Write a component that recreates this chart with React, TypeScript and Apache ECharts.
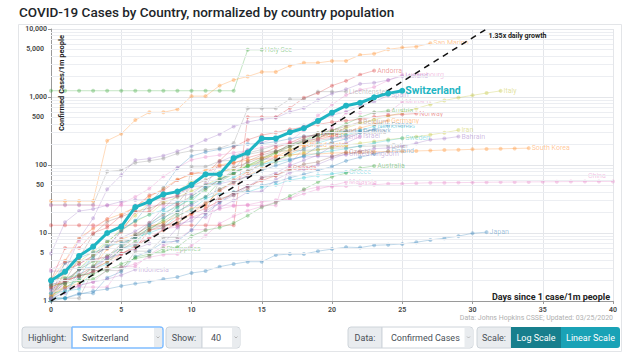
import React, { useEffect, useRef } from 'react';
import * as echarts from 'echarts';

// ---------- tick values ----------
const minorGrid = [2, 3, 4, 5, 6, 7, 8, 9, 20, 30, 40, 50, 60, 70, 80, 90, 200, 300, 400, 500, 600, 700, 800, 900, 2000, 3000, 4000, 5000, 6000, 7000, 8000, 9000];
const labeledMinor = [5, 50, 500, 5000];

// ---------- reference line (two endpoints) ----------
const growthLine = [[0, 1], [31, 10000]];

// ---------- series values (confirmed cases per 1m people, one per day since 1 case/1m) ----------
const switzerland = [2.0, 2.7, 4.6, 6.3, 10, 12.4, 24, 29, 37, 40.6, 51, 73, 73, 126, 152, 246, 246, 303, 347, 445, 588, 745, 823, 990, 1130, 1235];
const holySee = [1236, 1236, 1236, 1236, 1236, 1236, 1236, 1236, 1236, 1236, 1236, 1236, 1236, 1236, 4944, 4944];
const sanMarino = [29.5, 29.5, 29.5, 29.5, 228, 287, 458, 595, 595, 660, 1030, 1030, 1470, 1780, 2000, 2340, 2340, 2880, 3180, 3180, 3390, 3390, 4160, 4320, 5030, 5330, 5500, 6160];
const andorra = [13, 13, 13, 13, 13, 13, 13, 13, 13, 13, 13, 13, 13, 13, 506, 506, 506, 688, 974, 1143, 1468, 1727, 2130, 2442];
const liechtenstein = [26, 26, 26, 26, 80, 84, 108, 115, 125, 148, 162, 166, 176, 210, 680, 680, 680, 930, 930, 1200, 1200, 1200];
const iceland = [2.75, 2.75, 8.2, 16.5, 44, 71, 118, 124, 137, 159, 190, 234, 283, 368, 429, 470, 495, 604, 687, 907, 1124, 1300, 1560, 1615, 1780, 2025];
const luxembourg = [1.6, 1.6, 1.6, 1.6, 1.6, 3.2, 3.2, 4.8, 6.4, 8, 11.2, 11.2, 41.5, 54, 81, 123, 129, 224, 324, 535, 773, 1070, 1275, 1398, 1756, 2130];
const monaco = [25.5, 25.5, 25.5, 25.5, 25.5, 25.5, 25.5, 25.5, 25.5, 25.5, 25.5, 25.5, 25.5, 25.5, 25.5, 25.5, 25.5, 102, 179, 230, 357, 587, 587, 587, 587, 846];
const spain = [1.8, 2.6, 3.5, 4.7, 6, 8.5, 10.6, 14.2, 23, 36, 48, 48, 111, 136, 166, 212, 250, 296, 382, 434, 540, 608, 747, 848, 1053];
const italy = [1.03, 2.6, 3.8, 5.3, 7.5, 10.8, 14.7, 18.7, 28, 33.7, 41.4, 51, 64, 77, 97, 122, 152, 168, 206, 250, 292, 350, 410, 463, 522, 591, 679, 778, 887, 979, 1058, 1145, 1231];
const austria = [1.1, 1.6, 2, 3.3, 4.6, 6.2, 8.9, 11.7, 14.7, 20, 28, 34, 57, 74, 97, 114, 150, 185, 226, 268, 316, 402, 503, 594, 628];
const norway = [1.1, 2.8, 3.5, 4.6, 6.3, 10.4, 20.5, 20.5, 31, 36, 51, 74, 115, 183, 234, 275, 300, 334, 360, 395, 428, 448, 470, 510, 540, 555, 570];
const germany = [1.6, 1.9, 2.4, 3.2, 5.8, 8.1, 9.6, 12.5, 14.2, 17.6, 23, 25, 44, 55, 70, 88, 112, 149, 185, 239, 268, 300, 350, 397, 450];
const belgium = [1.1, 2.0, 4.3, 9.5, 14.7, 17.4, 20.8, 23.2, 27.3, 27.3, 48.6, 60, 77, 92, 108, 129, 156, 196, 245, 296, 325, 371, 429];
const netherlands = [1.04, 1.4, 2.2, 4.7, 7.4, 10.9, 15.3, 18.6, 22, 29, 29, 46, 55, 66, 82, 99, 119, 142, 173, 210, 243, 275, 321, 371];
const portugal = [1.3, 2, 2.9, 3.8, 4, 5.7, 7.6, 11, 16, 24, 32, 43, 62, 76, 99, 124, 155, 200, 229, 291];
const estonia = [1.5, 1.5, 2.3, 3, 7.5, 7.5, 8.3, 12, 13, 20, 20, 20, 59, 85, 150, 169, 195, 200, 212, 230, 245, 265, 303];
const denmark = [1.7, 3.6, 4.3, 5.2, 6, 11, 15, 27, 46, 90, 135, 155, 170, 190, 203, 206, 220, 243, 264, 277, 295, 315, 321];
const france = [1.5, 1.9, 2.9, 3.2, 4.3, 6.3, 9.5, 13, 17, 21, 26, 34, 44, 56, 68, 83, 98, 115, 138, 188, 215, 242, 297, 334, 382];
const israel = [1.7, 2.1, 2.3, 2.7, 4.4, 4.9, 6.4, 8.5, 11, 13.5, 15, 21, 28, 36, 48, 65, 77, 98, 117, 140, 190, 210, 263];
const ireland = [1.2, 3.7, 3.9, 4.1, 4.5, 6.9, 8.8, 14, 18.6, 26, 35, 46, 60, 75, 114, 140, 160, 185, 222, 245, 319];
const unitedStates = [1.2, 1.6, 1.8, 2.9, 3.8, 4.9, 6.5, 8.5, 11, 14, 19, 27, 41, 60, 80, 103, 133, 165, 200];
const qatar = [1.1, 1.1, 1.1, 2.8, 2.8, 2.8, 5.4, 5.4, 8.6, 8.6, 94, 94, 114, 118, 143, 157, 160, 162, 164, 168, 176, 179, 188, 190, 192];
const finland = [1.1, 1.1, 1.3, 1.3, 2.2, 2.7, 4.5, 5.4, 7.3, 7.6, 11, 19, 28, 39, 49, 50, 56, 65, 73, 83, 95, 115, 130, 145, 160];
const bahrain = [5, 14.4, 21, 22.5, 25.6, 29, 30.6, 30.6, 32.5, 34, 37.5, 53, 53, 59, 69, 122, 122, 122, 131, 134, 134, 142, 160, 174, 178, 190, 209, 236, 245, 262];
const iran = [1.14, 1.7, 3, 4.7, 7.1, 11.8, 18, 28, 35, 42, 57, 70, 79, 86, 97, 108, 121, 137, 153, 168, 181, 195, 209, 222, 237, 248, 261, 278, 299, 326];
const unitedKingdom = [1.3, 1.8, 2.5, 3.1, 4.2, 4.9, 5.8, 7, 7, 12, 17, 17, 23.5, 30, 40, 41, 61, 77, 87, 102, 124, 146];
const slovenia = [2.9, 3.8, 7.6, 12, 16, 27, 34, 45, 68, 91, 119, 131, 140, 151, 164, 181, 197, 214, 230, 242, 254];
const malta = [2, 6, 6, 10, 12, 18, 24, 36, 42, 60, 76, 76, 96, 106, 128, 146, 180, 212, 260, 278];
const southKorea = [2.0, 3.9, 8.4, 11.6, 16, 19, 24, 34, 45, 61, 72, 84, 100, 109, 118, 128, 136, 141, 145, 145, 150, 152, 154, 156, 158, 159, 161, 163, 166, 167, 170, 172, 173, 175, 177];
const china = [1.4, 2.0, 2.9, 4.0, 4.4, 5.9, 7.0, 8.4, 11.4, 12.3, 17.2, 19.7, 22.6, 24.9, 26.0, 28.7, 30.3, 31.9, 42.7, 47.6, 48.0, 49.2, 50.5, 51.3, 53.0, 53.0, 54, 54.8, 54.9, 55.1, 55.4, 55.8, 56.0, 56.2, 56.4, 56.6, 56.8, 57.0, 57.1, 57.2, 57.3];
const japan = [1.0, 1.1, 1.25, 1.4, 1.5, 1.66, 1.8, 1.92, 2.1, 2.25, 2.58, 2.76, 3.2, 3.5, 3.78, 3.78, 4.74, 4.9, 4.9, 5.4, 5.8, 6.2, 6.1, 6.6, 6.7, 6.9, 7.3, 7.9, 8.4, 9.0, 9.9, 10.3];
const sweden = [1.3, 1.4, 1.5, 2.9, 3.5, 5.9, 6.6, 13, 20, 24, 34, 49, 61, 78, 94, 104, 110, 120, 135, 150, 162, 173, 192, 210, 230, 248];
const czechia = [1.8, 1.8, 2.9, 3, 3.7, 5.9, 8.8, 11, 13, 14, 20, 28, 32, 36, 44, 65, 70, 85, 103, 111, 133, 155];
const greece = [1.1, 1.1, 3, 4.3, 6.5, 7, 8.6, 10, 12, 18, 22, 32, 38, 40, 40, 47, 51, 60, 65, 70, 74, 79];
const canada = [1.6, 2, 2.3, 2.7, 3.1, 5, 6, 11, 12, 16, 19, 23, 30, 39, 49, 59, 70, 90];
const australia = [2.1, 2.2, 2.4, 2.5, 3, 3.1, 4.4, 4.9, 5.3, 6.2, 9, 11, 12, 14, 18, 24, 28, 35, 44, 56, 67, 76, 90, 97];
const philippines = [1.7, 1.8, 2, 2.1, 2.8, 3.5, 4.2, 4.6, 5.9];
const indonesia = [1.1, 1.3, 1.7, 1.9, 2.1, 2.4, 2.9];
const malaysia = [1.1, 1.5, 1.7, 1.9, 2.9, 3.1, 3.5, 4.4, 4.8, 4.9, 6.5, 9.1, 13.8, 17.6, 21.3, 24.6, 28.6, 32, 38, 44, 50, 56];

const countryNames = ['Holy See', 'San Marino', 'Andorra', 'Luxembourg', 'Iceland', 'Liechtenstein', 'Spain', 'Italy', 'Monaco', 'Austria', 'Norway', 'Germany', 'Belgium', 'Netherlands', 'Portugal', 'Estonia', 'Denmark', 'France', 'Israel', 'Ireland', 'United States', 'Qatar', 'Finland', 'Bahrain', 'Iran', 'United Kingdom', 'Slovenia', 'Malta', 'South Korea', 'China', 'Japan', 'Sweden', 'Czechia', 'Greece', 'Canada', 'Australia', 'Philippines', 'Indonesia', 'Malaysia'];
const countryValues = [holySee, sanMarino, andorra, luxembourg, iceland, liechtenstein, spain, italy, monaco, austria, norway, germany, belgium, netherlands, portugal, estonia, denmark, france, israel, ireland, unitedStates, qatar, finland, bahrain, iran, unitedKingdom, slovenia, malta, southKorea, china, japan, sweden, czechia, greece, canada, australia, philippines, indonesia, malaysia];
const countryColorIdx = [2, 1, 3, 6, 4, 7, 4, 8, 6, 2, 3, 1, 5, 9, 2, 7, 0, 0, 4, 5, 1, 7, 0, 4, 8, 4, 6, 3, 1, 6, 0, 9, 5, 9, 3, 2, 2, 4, 6];

const palette = ['31,119,180', '255,127,14', '44,160,44', '214,39,40', '148,103,189', '140,86,75', '227,119,194', '127,127,127', '188,189,34', '23,190,207'];
const TEAL = '#1fb5c3';
const FONT = 'Roboto';

const fmt = (v: number) => v.toLocaleString('en-US');

export default function App() {
  const ref = useRef<HTMLDivElement>(null);
  useEffect(() => {
    if (!ref.current) return;
    const chart = echarts.init(ref.current, undefined, { renderer: 'svg' });

    const faded = countryNames.map((name, i) => {
      const rgb = palette[countryColorIdx[i]];
      const isChina = name === 'China';
      return {
        type: 'line',
        name,
        data: countryValues[i].map((v, d) => [d, v]),
        z: 2,
        symbol: 'circle',
        symbolSize: 4,
        showSymbol: true,
        itemStyle: { color: `rgba(${rgb},0.32)` },
        lineStyle: { color: `rgba(${rgb},0.28)`, width: 1 },
        emphasis: { disabled: true },
        endLabel: {
          show: true,
          formatter: name,
          fontSize: 7,
          fontFamily: FONT,
          color: `rgba(${rgb},0.45)`,
          distance: 3,
          offset: isChina ? [-28, -5] : [0, 0],
        },
      };
    });

    const ctrlText = (text: string, x: number, align: string, fill = '#495057') => ({
      type: 'text', x, y: 337.5,
      style: { text, fontSize: 9, fontFamily: FONT, fill, align, verticalAlign: 'middle' },
    });

    const option: any = {
      animation: false,
      textStyle: { fontFamily: FONT },
      grid: { left: 51, right: 27, top: 29, bottom: 59 },
      xAxis: {
        type: 'value', min: 0, max: 40, interval: 5,
        axisLine: { lineStyle: { color: '#9a9a9a' } },
        axisTick: { length: 3, lineStyle: { color: '#9a9a9a' } },
        axisLabel: { fontSize: 7, color: '#444', fontWeight: 600, margin: 5 },
        splitLine: { show: true, lineStyle: { color: '#e4e6ea' } },
      },
      yAxis: {
        type: 'log', logBase: 10, min: 1, max: 10000,
        axisLine: { show: true, lineStyle: { color: '#9a9a9a' } },
        axisTick: { show: true, length: 3, lineStyle: { color: '#9a9a9a' } },
        axisLabel: { fontSize: 7, color: '#444', fontWeight: 600, margin: 4, formatter: (v: number) => fmt(v) },
        splitLine: { show: true, lineStyle: { color: '#e4e6ea' } },
      },
      series: [
        {
          type: 'line', name: 'grid', data: [], z: 1, silent: true,
          markLine: {
            silent: true, symbol: ['none', 'none'], animation: false,
            lineStyle: { color: '#eceef2', width: 1, type: 'solid' },
            label: { show: false },
            emphasis: { disabled: true },
            data: minorGrid.map((v) => ({
              yAxis: v,
              label: labeledMinor.includes(v)
                ? { show: true, position: 'start', formatter: fmt(v), fontSize: 7, color: '#444', fontWeight: 600, distance: 7, fontFamily: FONT }
                : { show: false },
            })),
          },
        },
        ...faded,
        {
          type: 'line', name: '1.35x daily growth', data: growthLine, z: 5,
          showSymbol: false, symbol: 'none',
          lineStyle: { color: '#111', width: 1.5, type: [6, 5] },
          emphasis: { disabled: true },
          endLabel: { show: true, formatter: '1.35x daily growth', fontSize: 7, fontWeight: 'bold', color: '#222', offset: [-6, 7], fontFamily: FONT },
        },
        {
          type: 'line', name: 'Switzerland', data: switzerland.map((v, d) => [d, v]), z: 10,
          symbol: 'circle', symbolSize: 6, showSymbol: true,
          itemStyle: { color: TEAL },
          lineStyle: { color: TEAL, width: 3 },
          emphasis: { disabled: true },
          endLabel: { show: true, formatter: 'Switzerland', fontSize: 10.5, fontWeight: 'bold', color: TEAL, distance: 3, fontFamily: FONT },
        },
      ],
      graphic: [
        { type: 'rect', silent: true, z: -10, shape: { x: 18.5, y: 24.5, width: 603, height: 327 }, style: { fill: '#fff', stroke: '#e3e5e8', lineWidth: 1 } },
        { type: 'text', x: 19, y: 12, style: { text: 'COVID-19 Cases by Country, normalized by country population', fontSize: 13.5, fontWeight: 500, fontFamily: FONT, fill: '#212529', verticalAlign: 'middle' } },
        { type: 'text', x: 61, y: 83, rotation: Math.PI / 2, z: 20, style: { text: 'Confirmed Cases/1m people', fontSize: 7.5, fontWeight: 'bold', fontFamily: FONT, fill: '#222', align: 'center', verticalAlign: 'middle' } },
        { type: 'text', x: 610, y: 297, z: 20, style: { text: 'Days since 1 case/1m people', fontSize: 9, fontWeight: 'bold', fontFamily: FONT, fill: '#222', align: 'right', verticalAlign: 'middle' } },
        { type: 'text', x: 613, y: 318, style: { text: 'Data: Johns Hopkins CSSE; Updated: 03/25/2020', fontSize: 7, fontFamily: FONT, fill: '#b0b0b0', align: 'right', verticalAlign: 'middle' } },
        // controls
        { type: 'rect', shape: { x: 22, y: 327, width: 50, height: 21, r: [3, 0, 0, 3] }, style: { fill: '#e9ecef', stroke: '#ced4da' } },
        ctrlText('Highlight:', 47, 'center'),
        { type: 'rect', shape: { x: 72, y: 327, width: 91, height: 21, r: [0, 3, 3, 0] }, style: { fill: '#fff', stroke: '#80bdff', lineWidth: 1.5 } },
        { type: 'rect', shape: { x: 154, y: 328, width: 8, height: 19 }, style: { fill: '#e9ecef' } },
        { type: 'polyline', shape: { points: [[156.5, 336.5], [158, 338], [159.5, 336.5]] }, style: { stroke: '#aaa', fill: 'none', lineWidth: 0.8 } },
        ctrlText('Switzerland', 82, 'left'),
        { type: 'rect', shape: { x: 166, y: 327, width: 36, height: 21, r: [3, 0, 0, 3] }, style: { fill: '#e9ecef', stroke: '#ced4da' } },
        ctrlText('Show:', 184, 'center'),
        { type: 'rect', shape: { x: 202, y: 327, width: 38, height: 21, r: [0, 3, 3, 0] }, style: { fill: '#fff', stroke: '#ced4da' } },
        { type: 'rect', shape: { x: 232, y: 328, width: 7.5, height: 19 }, style: { fill: '#e9ecef' } },
        { type: 'polyline', shape: { points: [[234.5, 336.5], [236, 338], [237.5, 336.5]] }, style: { stroke: '#aaa', fill: 'none', lineWidth: 0.8 } },
        ctrlText('40', 216, 'center'),
        { type: 'rect', shape: { x: 348, y: 327, width: 34, height: 21, r: [3, 0, 0, 3] }, style: { fill: '#e9ecef', stroke: '#ced4da' } },
        ctrlText('Data:', 365, 'center'),
        { type: 'rect', shape: { x: 382, y: 327, width: 91, height: 21, r: [0, 3, 3, 0] }, style: { fill: '#fff', stroke: '#ced4da' } },
        { type: 'rect', shape: { x: 464.5, y: 328, width: 8, height: 19 }, style: { fill: '#e9ecef' } },
        { type: 'polyline', shape: { points: [[467, 336.5], [468.5, 338], [470, 336.5]] }, style: { stroke: '#aaa', fill: 'none', lineWidth: 0.8 } },
        ctrlText('Confirmed Cases', 391, 'left'),
        { type: 'rect', shape: { x: 477, y: 327, width: 34, height: 21, r: [3, 0, 0, 3] }, style: { fill: '#e9ecef', stroke: '#ced4da' } },
        ctrlText('Scale:', 494, 'center'),
        { type: 'rect', shape: { x: 511, y: 327, width: 50, height: 21 }, style: { fill: '#177f8d' } },
        ctrlText('Log Scale', 536, 'center', '#fff'),
        { type: 'rect', shape: { x: 561, y: 327, width: 59, height: 21, r: [0, 3, 3, 0] }, style: { fill: '#19a2b6' } },
        ctrlText('Linear Scale', 590.5, 'center', '#fff'),
      ],
    };
    chart.setOption(option);
    return () => chart.dispose();
  }, []);
  return (
    <div style={{ position: 'absolute', left: 0, top: 0, width: 640, height: 360, background: '#fff' }}>
      <div ref={ref} style={{ width: 640, height: 360 }} />
    </div>
  );
}
